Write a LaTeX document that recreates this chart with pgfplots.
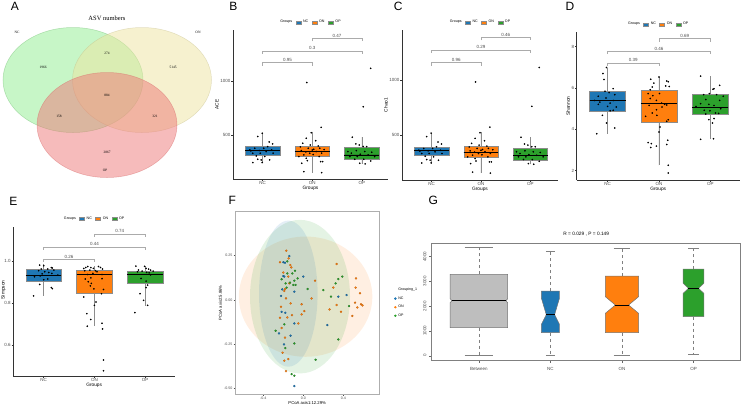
\documentclass[border=0pt]{standalone}
\usepackage{fontspec}
\setmainfont{Liberation Sans}
\newfontfamily\vennfont{Liberation Serif}
\usepackage{pgfplots}
\usepackage{pgfplotstable}
\pgfplotsset{compat=1.18}
\usepgfplotslibrary{statistics}

\definecolor{ncb}{HTML}{1F77B4}
\definecolor{ono}{HTML}{FF7F0E}
\definecolor{opg}{HTML}{2CA02C}
\definecolor{btw}{HTML}{BEBEBE}
\definecolor{axc}{HTML}{333333}
\definecolor{tkc}{HTML}{4D4D4D}
\definecolor{brk}{HTML}{ABABAB}
\definecolor{boxedge}{HTML}{8C8C8C}
\definecolor{vgreen}{HTML}{90EE90}
\definecolor{vyel}{HTML}{EDE4A0}
\definecolor{vred}{HTML}{EE7777}

\newcommand{\ftk}{\fontsize{4.5}{5}\selectfont}
\newcommand{\flb}{\fontsize{4.8}{5.5}\selectfont}
\newcommand{\flg}{\fontsize{3.6}{4}\selectfont}
\newcommand{\fpl}{\fontsize{12}{13}\selectfont}

% jittered samples, ACE / Chao1
\pgfplotstableread{
x y
0.99 516
0.90 485
1.13 435
1.20 417
0.84 377
1.02 377
0.74 361
0.93 355
1.07 346
1.18 361
1.21 331
0.80 331
0.95 331
0.87 306
1.04 300
0.90 275
0.97 269
1.14 269
0.80 244
0.99 244
1.10 392
0.76 352
2.18 571
1.98 521
1.88 469
2.07 447
1.81 423
1.96 407
2.12 398
2.15 377
1.92 377
2.03 367
1.78 355
1.87 343
2.08 346
1.95 331
2.19 331
1.83 315
2.02 318
1.73 300
2.14 300
1.88 284
1.79 238
2.17 253
2.21 253
1.83 160
2.19 151
1.89 985
2.00 360
1.76 390
2.24 365
1.90 262
2.81 479
2.88 417
2.95 407
3.10 392
3.03 392
2.72 346
2.89 355
3.06 346
3.20 340
2.79 331
2.97 321
3.13 315
2.76 300
2.91 300
3.26 300
2.86 275
3.04 275
3.18 259
2.96 238
3.07 232
3.18 1117
3.03 762
}\jitBC

% Shannon
\pgfplotstableread{
x y
0.98 6.99
0.91 6.70
0.93 6.41
1.11 5.97
0.95 5.84
1.03 5.78
1.14 5.68
0.82 5.60
0.97 5.52
0.75 5.40
1.11 5.40
0.85 5.32
1.05 5.27
0.82 5.21
1.00 5.11
1.17 5.08
1.11 4.92
1.05 4.90
0.90 4.68
0.98 4.31
1.14 4.07
0.79 3.79
2.00 6.53
1.84 6.42
2.15 6.34
2.18 6.30
1.90 6.24
2.13 6.10
2.20 6.07
1.87 6.05
1.83 5.92
1.79 5.73
2.01 5.73
1.88 5.63
1.83 5.49
1.95 5.40
2.05 5.27
2.11 5.21
2.15 5.18
1.81 5.16
2.06 5.08
1.95 4.95
1.87 4.79
1.96 4.68
1.74 4.63
2.18 4.47
2.15 4.39
2.02 4.11
2.00 3.87
1.79 3.36
1.85 3.31
2.17 3.47
2.15 3.27
1.84 3.12
1.95 3.19
2.18 2.26
2.18 1.89
2.81 6.58
3.18 6.13
3.07 5.97
3.05 5.94
2.98 5.73
2.87 5.68
3.12 5.68
3.25 5.60
2.91 5.44
3.18 5.40
2.81 5.24
2.97 5.21
3.07 5.16
2.72 5.11
3.20 5.00
2.88 4.92
2.99 4.90
3.10 4.79
3.16 4.77
2.91 4.74
2.97 4.47
3.07 4.52
3.04 4.31
2.81 3.52
3.06 3.55
}\jitD

% Simpson
\pgfplotstableread{
x y
0.92 0.982
1.00 0.979
0.95 0.963
1.08 0.963
1.15 0.970
1.17 0.968
0.90 0.955
1.02 0.950
1.10 0.946
1.16 0.942
0.82 0.926
1.08 0.915
0.93 0.930
1.28 0.934
1.00 0.912
0.92 0.889
1.15 0.874
1.17 0.869
0.80 0.834
1.20 0.958
0.97 0.940
1.79 0.966
1.83 0.970
1.87 0.975
1.93 0.970
1.98 0.966
2.08 0.975
2.12 0.970
2.16 0.963
2.02 0.955
1.91 0.958
1.81 0.955
2.05 0.950
1.97 0.942
1.87 0.937
2.15 0.937
1.93 0.921
1.82 0.915
2.15 0.917
1.88 0.902
1.94 0.894
1.92 0.882
2.18 0.865
1.99 0.868
2.14 0.845
1.79 0.829
2.03 0.805
2.00 0.789
1.85 0.749
1.93 0.721
1.86 0.689
2.15 0.703
2.16 0.676
2.18 0.527
2.18 0.475
2.82 0.977
2.99 0.976
2.87 0.958
3.02 0.966
3.07 0.963
3.11 0.958
3.16 0.953
2.94 0.953
2.85 0.950
3.03 0.947
3.08 0.945
3.11 0.935
2.92 0.918
3.02 0.905
3.05 0.886
3.02 0.874
2.90 0.845
2.97 0.813
3.05 0.789
2.80 0.754
}\jitE

% PCoA scores
\pgfplotstableread{
x y
-0.140 0.248
-0.200 0.213
-0.183 0.210
-0.200 0.135
-0.190 0.132
0.000 0.132
-0.210 0.060
-0.090 0.047
-0.223 0.023
-0.217 -0.067
-0.180 -0.072
-0.090 -0.132
-0.243 -0.188
-0.127 -0.201
-0.193 -0.250
-0.090 -0.485
0.350 0.019
0.433 0.028
0.240 -0.141
}\pcNC
\pgfplotstableread{
x y
-0.170 0.278
-0.147 0.235
-0.233 0.213
-0.130 0.197
-0.120 0.184
-0.200 0.155
-0.150 0.132
-0.140 0.094
-0.183 0.062
-0.190 0.051
-0.173 0.009
0.117 0.109
0.083 0.009
-0.127 -0.019
-0.017 -0.024
-0.223 -0.038
0.010 -0.062
-0.017 -0.081
-0.113 -0.085
-0.160 -0.098
-0.233 -0.100
-0.050 -0.132
-0.217 -0.158
-0.183 -0.212
-0.207 -0.297
-0.150 -0.333
-0.190 -0.342
-0.173 -0.401
0.333 0.203
0.527 0.122
0.300 0.070
0.523 0.070
0.567 0.038
0.517 -0.015
0.577 -0.024
0.592 -0.030
0.333 -0.028
0.540 -0.042
0.263 -0.053
0.377 -0.066
0.490 -0.090
}\pcON
\pgfplotstableread{
x y
-0.160 0.218
-0.083 0.165
-0.160 0.150
-0.110 0.150
-0.217 0.117
-0.057 0.122
-0.133 0.098
-0.177 0.094
-0.090 0.109
-0.100 0.085
-0.077 0.085
-0.167 0.070
0.043 0.062
-0.190 -0.137
-0.277 -0.173
-0.090 -0.245
-0.180 -0.271
0.123 -0.337
-0.117 -0.418
-0.090 -0.427
0.390 0.132
0.350 0.118
0.323 0.094
0.200 0.056
0.277 0.019
0.457 -0.034
0.350 -0.222
}\pcOP

\tikzset{blab/.style={font=\ftk, text=tkc, above, inner sep=0.8pt}}
\pgfplotsset{
  gg/.style={
    scale only axis, clip=false,
    axis lines*=left, axis line style={-, axc, line width=0.45pt},
    tick align=outside, major tick length=1.6pt,
    tick style={axc, line width=0.45pt},
    tick label style={font=\ftk, text=tkc, inner sep=0.9pt},
    label style={font=\flb, text=black, inner sep=0.5pt},
    xmin=0.4, xtick={1,2,3}, xticklabels={NC,ON,OP},
    xlabel={Groups},
    boxplot/draw direction=y,
    legend columns=-1,
    legend style={draw=none, fill=none, font=\flg, at={(0.5,1)}, anchor=south, yshift=1.5pt,
      /tikz/every even column/.append style={column sep=1.5pt}},
  },
  gbox/.style={draw=boxedge, line width=0.4pt,
    boxplot/every median/.style={black, line width=0.8pt},
    boxplot/every whisker/.style={boxedge, line width=0.45pt}, forget plot},
  jit/.style={only marks, mark=*, mark size=0.6pt, black, forget plot},
  brkt/.style={brk, line width=0.5pt, forget plot},
  grpleg/.style={
    legend image code/.code={\draw[##1] (0pt,-1.5pt) rectangle (5pt,1.5pt);}},
  wsk/.style={gray, dashed, line width=0.4pt, forget plot},
  cap/.style={gray, line width=0.5pt, forget plot},
  nbox/.style={draw=gray!90!black, line width=0.5pt, forget plot},
  med/.style={black, line width=1pt, forget plot},
}

\begin{document}
\begin{tikzpicture}
\path[use as bounding box] (0,0) rectangle (743pt,-405pt);

% ---------- A: Venn ----------
\begin{axis}[scale only axis, hide axis, clip=false, at={(0pt,0pt)}, anchor=north west,
  width=225pt, height=190pt, xmin=0, xmax=225, ymin=-190, ymax=0]
\draw[fill=vgreen, fill opacity=0.5, draw=vgreen!80!black, draw opacity=0.5, line width=0.5pt]
  (axis cs:73,-80) ellipse [x radius=70, y radius=52.5];
\draw[fill=vyel, fill opacity=0.5, draw=vyel!80!black, draw opacity=0.4, line width=0.5pt]
  (axis cs:142,-80) ellipse [x radius=69.5, y radius=52.5];
\draw[fill=vred, fill opacity=0.5, draw=vred!90!black, draw opacity=0.5, line width=0.5pt]
  (axis cs:107,-125) ellipse [x radius=70, y radius=52.5];
\begin{scope}[every node/.style={font=\vennfont\fontsize{3.5}{4}\selectfont}]
\node at (axis cs:17,-32) {NC};
\node at (axis cs:198,-32) {ON};
\node at (axis cs:105,-170) {OP};
\node at (axis cs:43,-67) {1966};
\node at (axis cs:107,-53) {274};
\node at (axis cs:173,-67) {5145};
\node at (axis cs:107,-95) {884};
\node at (axis cs:59,-116) {158};
\node at (axis cs:155,-116) {321};
\node at (axis cs:107,-152) {2867};
\end{scope}
\node[font=\vennfont\fontsize{6.5}{7}\selectfont] at (axis cs:107,-18) {ASV numbers};
\end{axis}

% ---------- B: ACE ----------
\begin{axis}[gg, at={(233pt,-30pt)}, anchor=north west, width=155pt, height=149pt,
  xmax=3.53, ymin=92, ymax=1472, ytick={500,1000}, yticklabels={500,1000}, ylabel={ACE}]
\addlegendimage{empty legend}\addlegendentry{Groups}
\addlegendimage{grpleg, fill=ncb, draw=boxedge}\addlegendentry{NC}
\addlegendimage{grpleg, fill=ono, draw=boxedge}\addlegendentry{ON}
\addlegendimage{grpleg, fill=opg, draw=boxedge}\addlegendentry{OP}
\addplot[gbox, fill=ncb, boxplot prepared={draw position=1, box extend=0.7, whisker extend=0,
  lower whisker=238, lower quartile=315, median=358, upper quartile=398, upper whisker=521}] coordinates {};
\addplot[gbox, fill=ono, boxplot prepared={draw position=2, box extend=0.7, whisker extend=0,
  lower whisker=151, lower quartile=300, median=346, upper quartile=398, upper whisker=531}] coordinates {};
\addplot[gbox, fill=opg, boxplot prepared={draw position=3, box extend=0.7, whisker extend=0,
  lower whisker=232, lower quartile=275, median=315, upper quartile=383, upper whisker=479}] coordinates {};
\addplot[jit] table[x=x, y=y] {\jitBC};
\addplot[brkt] coordinates {(1,1141) (1,1169) (2,1169) (2,1141)};
\addplot[brkt] coordinates {(1,1250) (1,1278) (3,1278) (3,1250)};
\addplot[brkt] coordinates {(2,1367) (2,1395) (3,1395) (3,1367)};
\node[blab] at (axis cs:1.5,1169) {0.95};
\node[blab] at (axis cs:2,1278) {0.3};
\node[blab] at (axis cs:2.5,1395) {0.47};
\end{axis}

% ---------- C: Chao1 ----------
\begin{axis}[gg, at={(402pt,-30pt)}, anchor=north west, width=156pt, height=150pt,
  xmax=3.56, ymin=88, ymax=1460, ytick={500,1000}, yticklabels={500,1000}, ylabel={Chao1}]
\addlegendimage{empty legend}\addlegendentry{Groups}
\addlegendimage{grpleg, fill=ncb, draw=boxedge}\addlegendentry{NC}
\addlegendimage{grpleg, fill=ono, draw=boxedge}\addlegendentry{ON}
\addlegendimage{grpleg, fill=opg, draw=boxedge}\addlegendentry{OP}
\addplot[gbox, fill=ncb, boxplot prepared={draw position=1, box extend=0.7, whisker extend=0,
  lower whisker=238, lower quartile=314, median=357, upper quartile=390, upper whisker=521}] coordinates {};
\addplot[gbox, fill=ono, boxplot prepared={draw position=2, box extend=0.7, whisker extend=0,
  lower whisker=151, lower quartile=296, median=342, upper quartile=399, upper whisker=531}] coordinates {};
\addplot[gbox, fill=opg, boxplot prepared={draw position=3, box extend=0.7, whisker extend=0,
  lower whisker=232, lower quartile=271, median=314, upper quartile=381, upper whisker=479}] coordinates {};
\addplot[jit] table[x=x, y=y] {\jitBC};
\addplot[brkt] coordinates {(1,1134) (1,1161) (2,1161) (2,1134)};
\addplot[brkt] coordinates {(1,1250) (1,1277) (3,1277) (3,1250)};
\addplot[brkt] coordinates {(2,1366) (2,1393) (3,1393) (3,1366)};
\node[blab] at (axis cs:1.5,1161) {0.96};
\node[blab] at (axis cs:2,1277) {0.29};
\node[blab] at (axis cs:2.5,1393) {0.46};
\end{axis}

% ---------- D: Shannon ----------
\begin{axis}[gg, at={(576.7pt,-32pt)}, anchor=north west, width=163pt, height=148pt,
  xmax=3.57, ymin=1.55, ymax=8.71, ytick={2,4,6,8}, yticklabels={2,4,6,8}, ylabel={Shannon}]
\addlegendimage{empty legend}\addlegendentry{Groups}
\addlegendimage{grpleg, fill=ncb, draw=boxedge}\addlegendentry{NC}
\addlegendimage{grpleg, fill=ono, draw=boxedge}\addlegendentry{ON}
\addlegendimage{grpleg, fill=opg, draw=boxedge}\addlegendentry{OP}
\addplot[gbox, fill=ncb, boxplot prepared={draw position=1, box extend=0.7, whisker extend=0,
  lower whisker=3.79, lower quartile=4.89, median=5.40, upper quartile=5.84, upper whisker=6.99}] coordinates {};
\addplot[gbox, fill=ono, boxplot prepared={draw position=2, box extend=0.7, whisker extend=0,
  lower whisker=2.26, lower quartile=4.36, median=5.24, upper quartile=5.89, upper whisker=6.53}] coordinates {};
\addplot[gbox, fill=opg, boxplot prepared={draw position=3, box extend=0.7, whisker extend=0,
  lower whisker=3.52, lower quartile=4.72, median=5.05, upper quartile=5.72, upper whisker=6.58}] coordinates {};
\addplot[jit] table[x=x, y=y] {\jitD};
\addplot[brkt] coordinates {(1,7.065) (1,7.21) (2,7.21) (2,7.065)};
\addplot[brkt] coordinates {(1,7.635) (1,7.78) (3,7.78) (3,7.635)};
\addplot[brkt] coordinates {(2,8.245) (2,8.39) (3,8.39) (3,8.245)};
\node[blab] at (axis cs:1.5,7.21) {0.39};
\node[blab] at (axis cs:2,7.78) {0.46};
\node[blab] at (axis cs:2.5,8.39) {0.69};
\end{axis}

% ---------- E: Simpson ----------
\begin{axis}[gg, at={(13.3pt,-226.7pt)}, anchor=north west, width=161.7pt, height=149.3pt,
  xmax=3.59, ymin=0.45, ymax=1.166, ytick={0.6,0.8,1.0}, yticklabels={0.6,0.8,1.0}, ylabel={Simpson},
  ylabel style={at={(ticklabel cs:0.577)}}, ylabel shift=-3pt]
\addlegendimage{empty legend}\addlegendentry{Groups}
\addlegendimage{grpleg, fill=ncb, draw=boxedge}\addlegendentry{NC}
\addlegendimage{grpleg, fill=ono, draw=boxedge}\addlegendentry{ON}
\addlegendimage{grpleg, fill=opg, draw=boxedge}\addlegendentry{OP}
\addplot[gbox, fill=ncb, boxplot prepared={draw position=1, box extend=0.7, whisker extend=0,
  lower whisker=0.834, lower quartile=0.906, median=0.931, upper quartile=0.963, upper whisker=0.987}] coordinates {};
\addplot[gbox, fill=ono, boxplot prepared={draw position=2, box extend=0.7, whisker extend=0,
  lower whisker=0.689, lower quartile=0.846, median=0.939, upper quartile=0.958, upper whisker=0.976}] coordinates {};
\addplot[gbox, fill=opg, boxplot prepared={draw position=3, box extend=0.7, whisker extend=0,
  lower whisker=0.787, lower quartile=0.894, median=0.939, upper quartile=0.953, upper whisker=0.977}] coordinates {};
\addplot[jit] table[x=x, y=y] {\jitE};
\addplot[brkt] coordinates {(1,0.9956) (1,1.010) (2,1.010) (2,0.9956)};
\addplot[brkt] coordinates {(1,1.0546) (1,1.069) (3,1.069) (3,1.0546)};
\addplot[brkt] coordinates {(2,1.1176) (2,1.132) (3,1.132) (3,1.1176)};
\node[blab] at (axis cs:1.5,1.010) {0.26};
\node[blab] at (axis cs:2,1.069) {0.44};
\node[blab] at (axis cs:2.5,1.132) {0.74};
\end{axis}

% ---------- F: PCoA ----------
\begin{axis}[scale only axis, clip=true, at={(235pt,-211.7pt)}, anchor=north west,
  width=144.3pt, height=182.3pt, xmin=-0.683, xmax=0.76, ymin=-0.53, ymax=0.498,
  axis line style={boxedge!70, line width=0.5pt}, tick pos=left, tick align=outside,
  major tick length=1.5pt, tick style={tkc, line width=0.4pt},
  tick label style={font=\fontsize{3.6}{4}\selectfont, text=tkc, inner sep=1pt},
  label style={font=\fontsize{4.2}{5}\selectfont, inner sep=1pt},
  xtick={-0.4,0,0.4}, xticklabels={-0.4,0.0,0.4},
  ytick={-0.5,-0.25,0,0.25}, yticklabels={-0.50,-0.25,0.00,0.25},
  xlabel={PCoA axis1:12.29\%}, ylabel={PCoA axis2:5.86\%},
  legend style={draw=none, fill=none, font=\flg, at={(1.03,0.5)}, anchor=west,
    row sep=0.6pt}, legend cell align=left]
\addlegendimage{empty legend}\addlegendentry{Grouping\_1}
\addlegendimage{only marks, mark=*, mark size=1pt, ncb}\addlegendentry{NC}
\addlegendimage{only marks, mark=*, mark size=1pt, ono}\addlegendentry{ON}
\addlegendimage{only marks, mark=*, mark size=1pt, opg}\addlegendentry{OP}
\draw[fill=ono, fill opacity=0.12, draw=none] (axis cs:0.023,0.019) ellipse [x radius=0.667, y radius=0.339];
\draw[fill=opg, fill opacity=0.13, draw=none] (axis cs:-0.033,0.019) ellipse [x radius=0.5, y radius=0.433];
\draw[fill=ncb, fill opacity=0.12, draw=none] (axis cs:-0.15,0.036) ellipse [x radius=0.293, y radius=0.412];
\addplot[only marks, mark=*, mark size=1.05pt, ncb, mark options={draw=ncb!70!black, line width=0.2pt}, forget plot] table[x=x, y=y] {\pcNC};
\addplot[only marks, mark=*, mark size=1.05pt, ono, mark options={draw=ono!70!black, line width=0.2pt}, forget plot] table[x=x, y=y] {\pcON};
\addplot[only marks, mark=*, mark size=1.05pt, opg, mark options={draw=opg!70!black, line width=0.2pt}, forget plot] table[x=x, y=y] {\pcOP};
\end{axis}

% ---------- G: ANOSIM ----------
\begin{axis}[scale only axis, clip=false, at={(431.7pt,-243.3pt)}, anchor=north west,
  width=309pt, height=116.7pt, xmin=0.34, xmax=4.66, ymin=-174, ymax=4541,
  axis line style={gray, line width=0.5pt}, tick pos=left, tick align=outside,
  major tick length=2.5pt, tick style={gray!80!black, line width=0.4pt},
  tick label style={font=\ftk, text=tkc},
  xtick={1,2,3,4}, xticklabels={Between,NC,ON,OP},
  xticklabel style={yshift=-1.5pt},
  ytick={0,1000,2000,3000,4000}, yticklabels={0,1000,2000,3000,4000},
  yticklabel style={rotate=90, anchor=south, inner sep=2.5pt},
  title={R = 0.029 , P = 0.149}, title style={font=\flb, at={(0.5,1)}, anchor=south, inner sep=1pt}]
% whiskers
\addplot[wsk] coordinates {(1,3289) (1,4364)};
\addplot[wsk] coordinates {(1,1131) (1,28)};
\addplot[wsk] coordinates {(2,2614) (2,4230)};
\addplot[wsk] coordinates {(2,929) (2,28)};
\addplot[wsk] coordinates {(3,3220) (3,4339)};
\addplot[wsk] coordinates {(3,929) (3,14)};
\addplot[wsk] coordinates {(4,3503) (4,4323)};
\addplot[wsk] coordinates {(4,1576) (4,69)};
% caps
\addplot[cap] coordinates {(0.8,4364) (1.2,4364)};
\addplot[cap] coordinates {(0.8,28) (1.2,28)};
\addplot[cap] coordinates {(1.937,4230) (2.063,4230)};
\addplot[cap] coordinates {(1.937,28) (2.063,28)};
\addplot[cap] coordinates {(2.884,4339) (3.116,4339)};
\addplot[cap] coordinates {(2.884,14) (3.116,14)};
\addplot[cap] coordinates {(3.928,4323) (4.072,4323)};
\addplot[cap] coordinates {(3.928,69) (4.072,69)};
% notched boxes
\addplot[nbox, fill=btw] coordinates {
  (0.598,1131) (0.598,2142) (0.622,2222) (0.598,2302) (0.598,3289) (1.402,3289) (1.402,2302) (1.378,2222) (1.402,2142) (1.402,1131)} --cycle;
\addplot[nbox, fill=ncb] coordinates {
  (1.874,929) (1.874,1269) (1.942,1657) (1.874,2320) (1.874,2614) (2.126,2614) (2.126,2320) (2.058,1657) (2.126,1269) (2.126,929)} --cycle;
\addplot[nbox, fill=ono] coordinates {
  (2.768,929) (2.768,1713) (2.907,2048) (2.768,2384) (2.768,3220) (3.232,3220) (3.232,2384) (3.093,2048) (3.232,1713) (3.232,929)} --cycle;
\addplot[nbox, fill=opg] coordinates {
  (3.856,1576) (3.856,2521) (3.930,2723) (3.856,2925) (3.856,3503) (4.144,3503) (4.144,2925) (4.070,2723) (4.144,2521) (4.144,1576)} --cycle;
% medians
\addplot[med] coordinates {(0.622,2222) (1.378,2222)};
\addplot[med] coordinates {(1.942,1657) (2.058,1657)};
\addplot[med] coordinates {(2.907,2048) (3.093,2048)};
\addplot[med] coordinates {(3.930,2723) (4.070,2723)};
\end{axis}

% panel letters
\begin{scope}[every node/.style={font=\fpl, inner sep=0pt}]
\node at (15pt,-6.5pt) {A};
\node at (233.3pt,-6.5pt) {B};
\node at (398.3pt,-6.5pt) {C};
\node at (570pt,-6.7pt) {D};
\node at (13.3pt,-201.7pt) {E};
\node at (232.3pt,-200pt) {F};
\node at (433.3pt,-200.7pt) {G};
\end{scope}
\end{tikzpicture}
\end{document}
